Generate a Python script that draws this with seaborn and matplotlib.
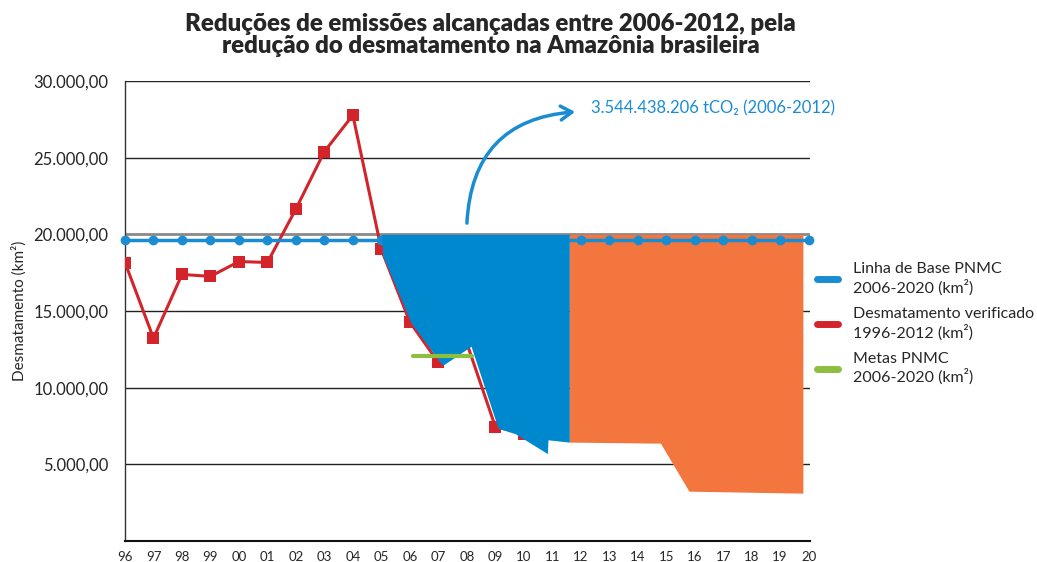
import matplotlib
matplotlib.use("Agg")
import numpy as np
import seaborn as sns
from matplotlib import pyplot as plt
from matplotlib.lines import Line2D
from matplotlib.ticker import FuncFormatter

# years on the x axis (index 0 = 1996)
year_labels = ["96", "97", "98", "99", "00", "01", "02", "03", "04", "05", "06", "07",
               "08", "09", "10", "11", "12", "13", "14", "15", "16", "17", "18", "19", "20"]
year_idx = list(range(len(year_labels)))

# Linha de base PNMC (km2)
baseline = [19625] * len(year_labels)

# Desmatamento verificado (km2), 1996-2010 as drawn
desmat_idx = list(range(15))
desmat = [18161, 13227, 17383, 17259, 18226, 18165, 21651, 25396, 27772,
          19014, 14286, 11651, 12911, 7464, 7000]

# Metas PNMC segment
metas_x = [10.1, 12.2]
metas = [12050, 12050]

# reduction area 2006-2012 (blue), lower edge
red_area_x = [9.0, 9.05, 10.05, 11.15, 12.15, 13.1, 13.7, 14.83, 14.85, 15.6]
red_area_low = [20000, 18600, 14200, 11450, 12700, 7350, 7000, 5700, 6600, 6450]
area_top = 20000

# projected area 2012-2020 (orange), lower edge
proj_x = [15.6, 18.8, 19.8, 23.8]
proj_low = [6450, 6380, 3250, 3120]

annot_text = "3.544.438.206 tCO\u2082 (2006-2012)"

blue_line = "#1A8DD2"
blue_fill = "#0088CF"
orange = "#F2763E"
red = "#D3242C"
green = "#8DBE3F"

sns.set_style("white")
plt.rcParams["font.family"] = ["Lato", "DejaVu Sans"]

fig = plt.figure(figsize=(10.37, 5.62), dpi=100)
ax = fig.add_axes([125 / 1037, 1 - 541 / 562, (810 - 125) / 1037, (541 - 81) / 562])

# gridlines
for v in [5000, 10000, 15000, 25000, 30000]:
    ax.axhline(v, color="#222222", lw=1.0, zorder=1)
ax.axhline(20000, color="#8a8a8a", lw=2.0, zorder=1)

sns.lineplot(x=desmat_idx, y=desmat, ax=ax, color=red, lw=2.2, marker="s",
             markersize=9, markeredgewidth=0, markevery=[i for i in desmat_idx if i != 12],
             zorder=3)

ax.fill_between(proj_x, proj_low, area_top, color=orange, lw=0, zorder=4)
sns.lineplot(x=year_idx, y=baseline, ax=ax, color=blue_line, lw=2.5, marker="o",
             markersize=7, markeredgewidth=0, zorder=5, clip_on=False)
ax.fill_between(red_area_x, red_area_low, area_top, color=blue_fill, lw=0, zorder=6)

sns.lineplot(x=metas_x, y=metas, ax=ax, color=green, lw=3, zorder=7)

ax.set_xlim(0, 24.05)
ax.set_ylim(0, 30000)
ax.set_xticks(year_idx)
ax.set_xticklabels(year_labels, fontsize=9.5)
ax.set_yticks([5000, 10000, 15000, 20000, 25000, 30000])
ax.yaxis.set_major_formatter(FuncFormatter(lambda v, p: f"{v:,.2f}".replace(",", "X").replace(".", ",").replace("X", ".")))
ax.tick_params(axis="y", labelsize=12, length=0, pad=12)
ax.tick_params(axis="x", length=0, pad=7)
ax.set_ylabel("Desmatamento (km\u00b2)", fontsize=11, labelpad=5)

for s in ["top", "right"]:
    ax.spines[s].set_visible(False)
ax.spines["left"].set_color("#333333")
ax.spines["left"].set_linewidth(1.0)
ax.spines["bottom"].set_color("#111111")
ax.spines["bottom"].set_linewidth(1.5)

# curved arrow + annotation
ax.annotate("", xy=(15.9, 28000), xytext=(12.0, 20550),
            arrowprops=dict(arrowstyle="->,head_length=0.8,head_width=0.5", color=blue_line,
                            lw=2.5, connectionstyle="arc3,rad=-0.45"), zorder=8)
ax.text(16.35, 28200, annot_text, color=blue_line, fontsize=12, va="center", ha="left")

fig.text(0.473, 0.938, "Reduções de emissões alcançadas entre 2006-2012, pela\n"
         "redução do desmatamento na Amazônia brasileira",
         ha="center", va="center", fontsize=17.3, fontweight="heavy", linespacing=1.0)

handles = [Line2D([0], [0], color=blue_line, lw=5),
           Line2D([0], [0], color=red, lw=5),
           Line2D([0], [0], color=green, lw=5)]
labels = ["Linha de Base PNMC\n2006-2020 (km\u00b2)",
          "Desmatamento verificado\n1996-2012 (km\u00b2)",
          "Metas PNMC\n2006-2020 (km\u00b2)"]
fig.legend(handles, labels, loc="upper left", bbox_to_anchor=(803 / 1037, 1 - 248 / 562),
           frameon=False, fontsize=11.5, handlelength=1.3, handletextpad=0.9,
           labelspacing=0.75)

fig.savefig("out.png", dpi=100)
